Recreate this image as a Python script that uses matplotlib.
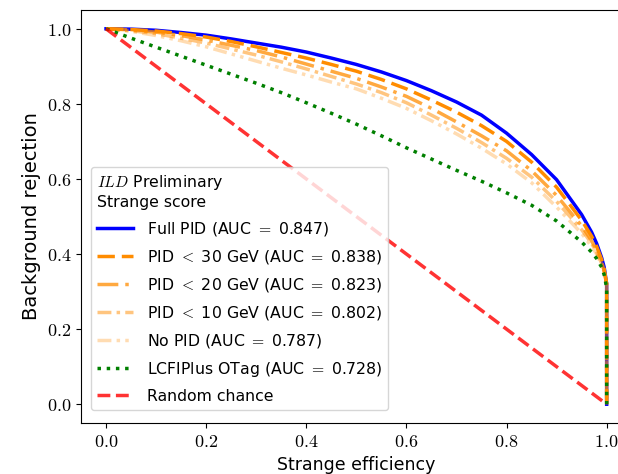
import matplotlib
matplotlib.use('Agg')
from matplotlib import pyplot as plt
from matplotlib.ticker import FuncFormatter
import numpy as np

plt.rcParams['mathtext.fontset'] = 'cm'
plt.rcParams['font.family'] = ['DejaVu Sans']

# signal efficiency grid (curves end with a vertical drop at eff = 1)
eff = [0.0, 0.05, 0.1, 0.15, 0.2, 0.25, 0.3, 0.35, 0.4, 0.45, 0.5, 0.55, 0.6, 0.65,
       0.7, 0.75, 0.8, 0.85, 0.9, 0.95, 0.97, 0.98, 0.99, 0.995, 1.0, 1.0]

rej_full = [1.0, 0.999, 0.996, 0.990, 0.983, 0.973, 0.962, 0.951, 0.938, 0.922, 0.905, 0.885, 0.862,
            0.835, 0.805, 0.770, 0.722, 0.665, 0.598, 0.505, 0.458, 0.428, 0.390, 0.365, 0.32, 0.0]
rej_30 = [1.0, 0.998, 0.994, 0.987, 0.978, 0.966, 0.952, 0.937, 0.922, 0.905, 0.887, 0.865, 0.840,
          0.810, 0.778, 0.742, 0.700, 0.645, 0.578, 0.490, 0.447, 0.420, 0.385, 0.360, 0.32, 0.0]
rej_20 = [1.0, 0.997, 0.991, 0.982, 0.970, 0.956, 0.942, 0.925, 0.906, 0.887, 0.868, 0.845, 0.820,
          0.788, 0.752, 0.715, 0.675, 0.622, 0.556, 0.475, 0.435, 0.410, 0.380, 0.355, 0.32, 0.0]
rej_10 = [1.0, 0.995, 0.987, 0.975, 0.962, 0.946, 0.930, 0.912, 0.893, 0.873, 0.853, 0.830, 0.803,
          0.770, 0.735, 0.697, 0.655, 0.605, 0.540, 0.465, 0.428, 0.405, 0.375, 0.352, 0.32, 0.0]
rej_nopid = [1.0, 0.993, 0.982, 0.968, 0.952, 0.933, 0.914, 0.895, 0.877, 0.858, 0.840, 0.815, 0.788,
             0.755, 0.720, 0.682, 0.640, 0.590, 0.525, 0.455, 0.420, 0.400, 0.370, 0.350, 0.32, 0.0]
rej_lcfi = [1.0, 0.975, 0.951, 0.927, 0.903, 0.879, 0.855, 0.830, 0.803, 0.775, 0.746, 0.715, 0.683,
            0.653, 0.623, 0.594, 0.563, 0.530, 0.488, 0.432, 0.405, 0.388, 0.365, 0.345, 0.31, 0.0]

labels = ['Full PID (AUC $=$ 0.847)',
          'PID $<$ 30 GeV (AUC $=$ 0.838)',
          'PID $<$ 20 GeV (AUC $=$ 0.823)',
          'PID $<$ 10 GeV (AUC $=$ 0.802)',
          'No PID (AUC $=$ 0.787)',
          'LCFIPlus OTag (AUC $=$ 0.728)',
          'Random chance']

fig = plt.figure(figsize=(6.18, 4.74), dpi=100)
ax = fig.add_axes([81/618, 51/474, 550.7/618, 413/474])

lw = 2.5
ax.plot(eff, rej_full, color='blue', lw=lw, label=labels[0])
ax.plot(eff, rej_30, color='darkorange', ls=(0, (5, 2)), lw=lw, label=labels[1])
ax.plot(eff, rej_20, color='darkorange', alpha=0.75, ls=(0, (6, 2, 1, 2)), lw=lw, label=labels[2])
ax.plot(eff, rej_10, color='darkorange', alpha=0.5, ls=(0, (4, 1.5, 1, 1.5)), lw=lw, label=labels[3])
ax.plot(eff, rej_nopid, color='darkorange', alpha=0.3, ls=(0, (4, 1.5, 1, 1.5, 1, 1.5)), lw=lw, label=labels[4])
ax.plot(eff, rej_lcfi, color='green', ls=':', lw=lw, label=labels[5])
ax.plot([0, 1], [1, 0], color='red', alpha=0.8, ls='--', lw=lw, label=labels[6])

ax.set_xlim(-0.05, 1.05)
ax.set_ylim(-0.05, 1.05)
ticks = [0.0, 0.2, 0.4, 0.6, 0.8, 1.0]
ax.set_xticks(ticks)
ax.set_yticks(ticks)
fmt = FuncFormatter(lambda v, p: '$%.1f$' % v)
ax.xaxis.set_major_formatter(fmt)
ax.yaxis.set_major_formatter(fmt)
ax.tick_params(labelsize=13)

ax.set_xlabel('Strange efficiency', fontsize=12.5)
ax.set_ylabel('Background rejection', fontsize=14)

leg = ax.legend(loc='upper left', bbox_to_anchor=(0.018, 0.62), borderaxespad=0,
                title='$\\mathit{ILD}$ Preliminary\nStrange score', alignment='left',
                fontsize=11.3, title_fontsize=11.3, handlelength=2.3, labelspacing=0.64,
                handletextpad=0.85)

fig.savefig('out.png', dpi=100)
